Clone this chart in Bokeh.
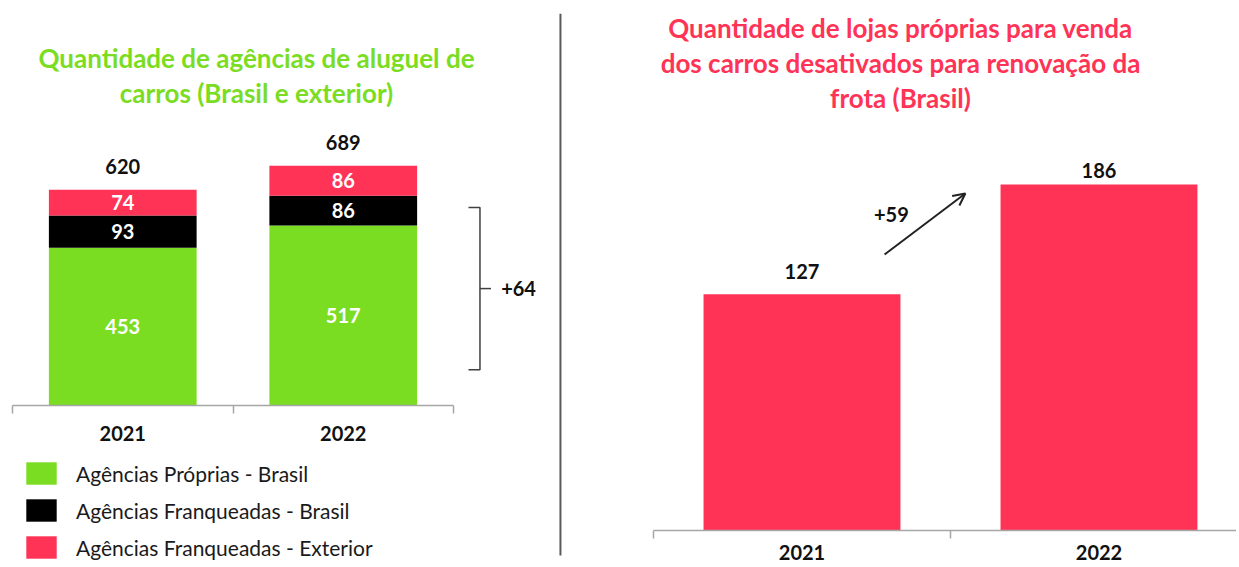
from bokeh.plotting import figure
from bokeh.models import (ColumnDataSource, Range1d, LinearAxis, FixedTicker, Label,
                          Legend, LegendItem, Arrow, OpenHead)
from bokeh.layouts import row
from bokeh.core.properties import value
from bokeh.embed import file_html
from bokeh.resources import INLINE

# ---------------- data ----------------
years = ["2021", "2022"]
proprias_brasil = [453, 517]
franqueadas_brasil = [93, 86]
franqueadas_exterior = [74, 86]
lojas_proprias = [127, 186]

series_names = ["Agências Próprias - Brasil",
                "Agências Franqueadas - Brasil",
                "Agências Franqueadas - Exterior"]
title_left = ["Quantidade de agências de aluguel de",
              "carros (Brasil e exterior)"]
title_right = ["Quantidade de lojas próprias para venda",
               "dos carros desativados para renovação da",
               "frota (Brasil)"]

# ---------------- style ----------------
GREEN = "#7ADD22"
BLACK = "#000000"
RED = "#FF3355"
AXIS = "#A6A6A6"
TXT = "#111111"
FONT = "Lato"
VAL_SIZE = "20px"
TITLE_SIZE = "26px"
H = 566

x_pos = [i + 0.5 for i in range(len(years))]
bounds = [float(i) for i in range(len(years) + 1)]
labels_map = {x: y for x, y in zip(x_pos, years)}


def make_axis(standoff):
    return LinearAxis(
        fixed_location=0, bounds=(0, len(years)),
        ticker=FixedTicker(ticks=x_pos, minor_ticks=bounds),
        major_label_overrides=labels_map,
        axis_line_color=AXIS, axis_line_width=1.5,
        major_tick_line_color=None, major_tick_in=0, major_tick_out=0,
        minor_tick_line_color=AXIS, minor_tick_line_width=1.5,
        minor_tick_in=0, minor_tick_out=8,
        major_label_text_font=FONT, major_label_text_font_style="bold",
        major_label_text_font_size=VAL_SIZE, major_label_text_color=TXT,
        major_label_standoff=standoff,
    )


def base_fig(w, h, xr, yr):
    f = figure(width=w, height=h, x_range=Range1d(*xr), y_range=Range1d(*yr),
               output_backend="svg", toolbar_location=None,
               x_axis_location=None, y_axis_location=None, min_border=0)
    f.outline_line_color = None
    for g in f.grid:
        g.visible = False
    return f


def txt(fig, x, y, t, color=TXT, **kw):
    fig.text(x=x, y=y, text=t, text_color=color, text_font=value(FONT),
             text_font_style="bold", text_font_size=VAL_SIZE,
             text_align="center", text_baseline="middle", **kw)


# ================= left chart =================
p1 = base_fig(568, H, (-0.05442, 2.5215), (-462.6, 1163.8))

src1 = ColumnDataSource(dict(x=x_pos, pb=proprias_brasil,
                             fb=franqueadas_brasil, fe=franqueadas_exterior))
rs = p1.vbar_stack(["pb", "fb", "fe"], x="x", width=0.67,
                   fill_color=[GREEN, BLACK, RED], line_color=None, source=src1)

# segment labels
seg_x, seg_y, seg_t = [], [], []
bottom = [0] * len(years)
for series in (proprias_brasil, franqueadas_brasil, franqueadas_exterior):
    for i, v in enumerate(series):
        seg_x.append(x_pos[i])
        seg_y.append(bottom[i] + v / 2)
        seg_t.append(str(v))
        bottom[i] += v
txt(p1, seg_x, seg_y, seg_t, color="white")

totals = [a + b + c for a, b, c in zip(proprias_brasil, franqueadas_brasil, franqueadas_exterior)]
txt(p1, x_pos, totals, [str(t) for t in totals], y_offset=-23)

p1.add_layout(make_axis(12), "below")

# bracket + delta
p1.line(x=[2.068, 2.12, 2.12, 2.068], y=[569, 569, 103, 103], line_color="#404040", line_width=1.5)
p1.line(x=[2.12, 2.17], y=[336, 336], line_color="#404040", line_width=1.5)
delta1 = proprias_brasil[1] - proprias_brasil[0]
txt(p1, [2.295], [336], [f"+{delta1}"])

# separator
p1.line(x=[2.485, 2.485], y=[1126, -431], line_color="#595959", line_width=2)

# titles
for i, t in enumerate(title_left):
    p1.add_layout(Label(x=256, y=H - 57 - 35 * i, x_units="screen", y_units="screen", text=t,
                        text_align="center", text_baseline="middle", text_color=GREEN,
                        text_font=FONT, text_font_style="bold", text_font_size=TITLE_SIZE))

legend = Legend(items=[LegendItem(label=n, renderers=[r]) for n, r in zip(series_names, rs)],
                location=(22, 5), glyph_width=38, glyph_height=28, label_standoff=16,
                spacing=9, padding=0, margin=0, border_line_color=None,
                background_fill_alpha=0, label_text_font=FONT,
                label_text_font_size="21px", label_text_color="#1a1a1a")
p1.add_layout(legend)

# ================= right chart =================
p2 = base_fig(668, H, (-0.2862, 1.963), (-19.35, 284.95))
src2 = ColumnDataSource(dict(x=x_pos, v=lojas_proprias))
p2.vbar(x="x", top="v", width=0.663, fill_color=RED, line_color=None, source=src2)
txt(p2, x_pos, lojas_proprias, [str(v) for v in lojas_proprias], y_offset=[-23, -14])
p2.add_layout(make_axis(6), "below")

p2.add_layout(Arrow(end=OpenHead(size=12, line_width=2, line_color="#222222"),
                    x_start=0.778, y_start=148.4, x_end=1.05, y_end=181.2,
                    line_width=2, line_color="#222222"))
delta2 = lojas_proprias[1] - lojas_proprias[0]
txt(p2, [0.801], [170], [f"+{delta2}"])

for i, t in enumerate(title_right):
    p2.add_layout(Label(x=332, y=H - 27 - 35 * i, x_units="screen", y_units="screen", text=t,
                        text_align="center", text_baseline="middle", text_color=RED,
                        text_font=FONT, text_font_style="bold", text_font_size=TITLE_SIZE))

layout = row(p1, p2)
open("out.html", "w").write(file_html(layout, INLINE))
